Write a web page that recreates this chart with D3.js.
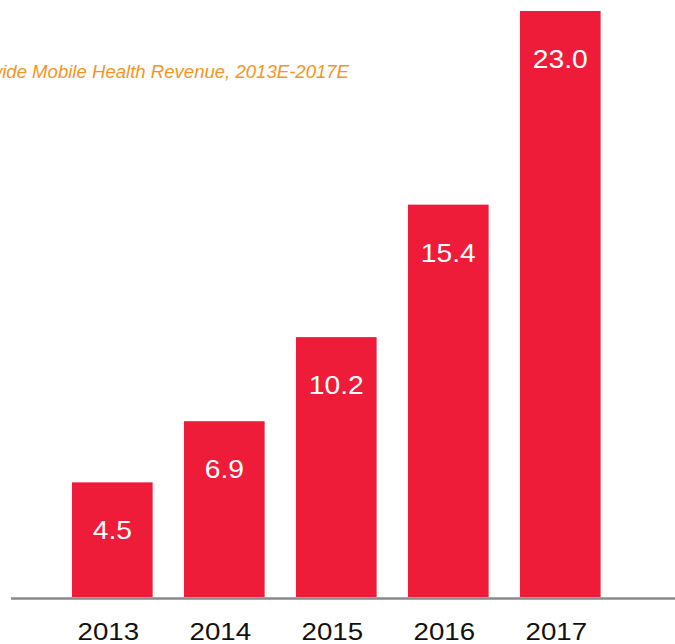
<!DOCTYPE html>
<html>
<head>
<meta charset="utf-8">
<script src="https://cdn.jsdelivr.net/npm/d3@7.9.0/dist/d3.min.js"></script>
<style>
  html, body { margin: 0; padding: 0; background: #fff; }
  svg { display: block; }
  text { font-family: "Liberation Sans", Arial, Helvetica, sans-serif; }
</style>
</head>
<body>
<div id="chart"></div>
<script>
const years = ['2013', '2014', '2015', '2016', '2017'];
const revenue = [4.5, 6.9, 10.2, 15.4, 23.0];
const title = 'Worldwide Mobile Health Revenue, 2013E-2017E';

const W = 675, H = 644;
const stretch = 1.13; // source picture is a bit wider than tall

const svg = d3.select('#chart').append('svg').attr('width', W).attr('height', H);

const x = d3.scaleBand().domain(years).range([16, 656.6]).paddingInner(0.28).paddingOuter(0.5);
const y = d3.scaleLinear().domain([0, 23]).range([597, 11]);

// title, cut off on the left like the source
const t = svg.append('text')
  .attr('fill', '#F7941D')
  .attr('font-style', 'italic')
  .attr('font-size', 18)
  .attr('text-anchor', 'end')
  .text(title);
const sub = t.node().getSubStringLength(6, title.length - 6);
const sx = 347 / sub;
t.attr('transform', `translate(349,78) scale(${sx},1)`);

svg.append('g').selectAll('rect').data(revenue).join('rect')
  .attr('x', (d, i) => x(years[i]))
  .attr('y', d => y(d))
  .attr('width', x.bandwidth())
  .attr('height', d => y(0) - y(d))
  .attr('fill', '#EE1C39');

svg.append('g').selectAll('text').data(revenue).join('text')
  .attr('transform', (d, i) => `translate(${x(years[i]) + x.bandwidth() / 2},${y(d) + 57}) scale(${stretch},1)`)
  .attr('text-anchor', 'middle')
  .attr('font-size', 25)
  .attr('fill', '#fff')
  .text(d => d.toFixed(1));

svg.append('line')
  .attr('x1', 11).attr('x2', 675)
  .attr('y1', 598.5).attr('y2', 598.5)
  .attr('stroke', '#8A8A8A').attr('stroke-width', 2.5);

const xAxis = svg.append('g').attr('transform', 'translate(0,639.5)');
xAxis.selectAll('text').data(years).join('text')
  .attr('transform', d => `translate(${x(d) + x.bandwidth() / 2 - 4},0) scale(${stretch},1)`)
  .attr('text-anchor', 'middle')
  .attr('font-size', 24.5)
  .attr('fill', '#111')
  .text(d => d);
</script>
</body>
</html>
